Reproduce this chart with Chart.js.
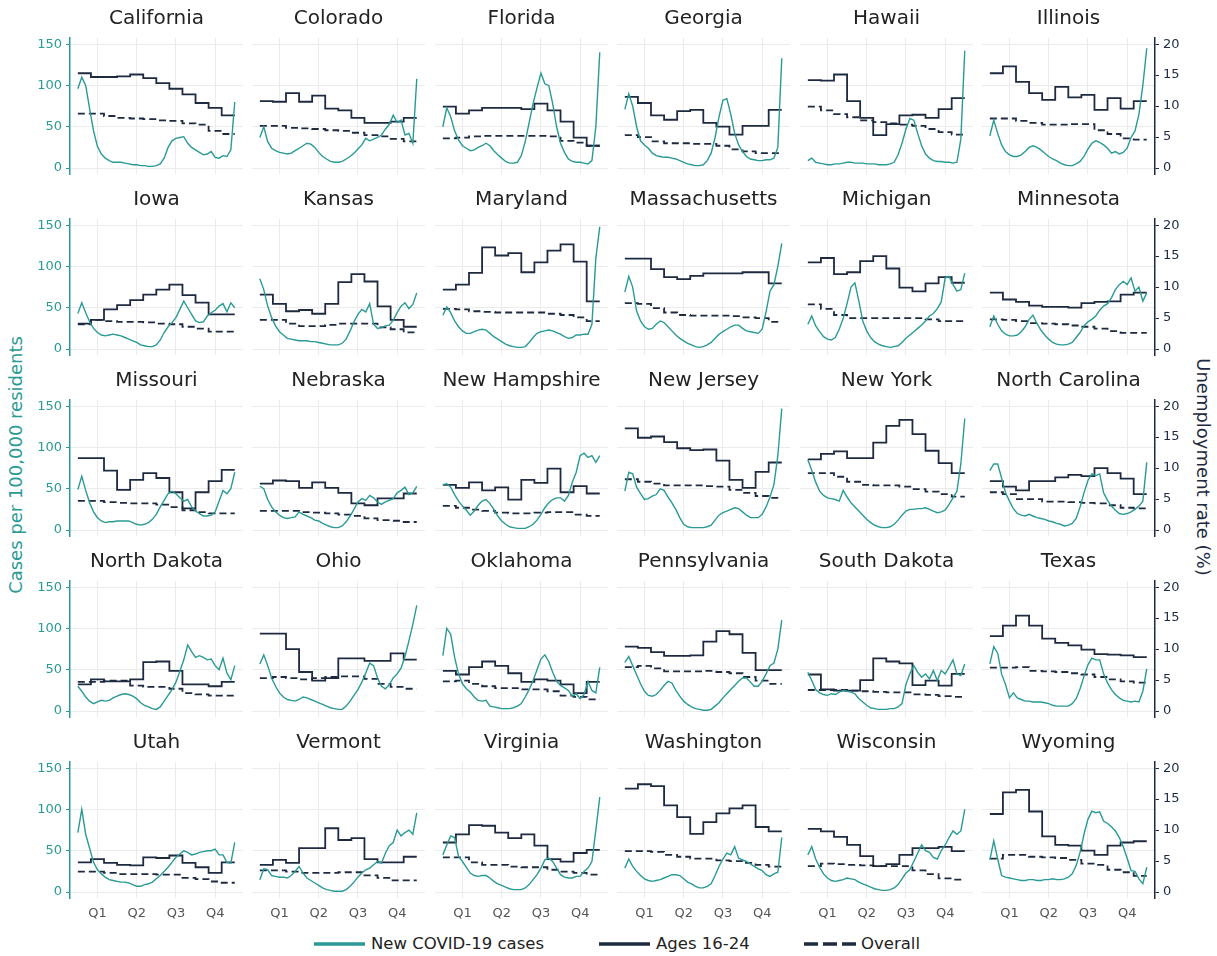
<!DOCTYPE html>
<html>
<head>
<meta charset="utf-8">
<title>COVID-19 cases and unemployment by state</title>
<script src="https://cdn.jsdelivr.net/npm/chart.js@4.4.1/dist/chart.umd.min.js"></script>
<style>
  body { margin: 0; background: #fff; font-family: "DejaVu Sans", sans-serif; }
  #page { position: relative; width: 1217px; height: 956px; overflow: hidden; }
  .panel { position: absolute; }
  .axis-title { position: absolute; white-space: nowrap; font-size: 18px; }
  #legend { position: absolute; left: 0; top: 934px; width: 1217px; height: 20px; font-size: 16.5px; line-height: 20px; color: #222; }
  #legend svg, #legend span { position: absolute; }
</style>
</head>
<body>
<div id="page">
  <div class="axis-title" style="left:15px;top:465px;color:#2a9a94;transform:translate(-50%,-50%) rotate(-90deg);">Cases per 100,000 residents</div>
  <div class="axis-title" style="left:1203px;top:467px;color:#1d2a40;transform:translate(-50%,-50%) rotate(90deg);">Unemployment rate (%)</div>
  <div id="legend">
    <svg style="left:314px;top:5px" width="51" height="10"><line x1="0" y1="5" x2="51" y2="5" stroke="#2a9a94" stroke-width="3.5"/></svg>
    <span style="left:371px;top:0">New COVID-19 cases</span>
    <svg style="left:599px;top:5px" width="51" height="10"><line x1="0" y1="5" x2="51" y2="5" stroke="#1d2a40" stroke-width="3.5"/></svg>
    <span style="left:656px;top:0">Ages 16-24</span>
    <svg style="left:804px;top:5px" width="52" height="10"><line x1="0" y1="5" x2="52" y2="5" stroke="#1d2a40" stroke-width="3.5" stroke-dasharray="14,5"/></svg>
    <span style="left:861px;top:0">Overall</span>
  </div>
</div>
<script>
const states = ["California", "Colorado", "Florida", "Georgia", "Hawaii", "Illinois",
  "Iowa", "Kansas", "Maryland", "Massachusetts", "Michigan", "Minnesota",
  "Missouri", "Nebraska", "New Hampshire", "New Jersey", "New York", "North Carolina",
  "North Dakota", "Ohio", "Oklahoma", "Pennsylvania", "South Dakota", "Texas",
  "Utah", "Vermont", "Virginia", "Washington", "Wisconsin", "Wyoming"];

const quarterLabels = ["Q1", "Q2", "Q3", "Q4"];
const quarterTicks = [5, 15, 25, 35]; // quarter midpoints on the 0-40 sample axis
const caseTicks = [0, 50, 100, 150];
const rateTicks = [0, 5, 10, 15, 20];

// new cases per 100,000, sampled evenly across the year (41 points per state)
const newCases = [
  [96,110,100,72,45,26,17,12,9,7,7,7,6,5,4,4,3,3,2,2,3,5,12,25,33,36,37,38,30,25,22,19,16,17,20,13,12,15,14,22,80],
  [37,50,32,24,21,19,18,17,18,21,24,27,30,29,25,19,14,11,8,7,7,8,11,14,18,23,28,36,33,35,37,40,47,53,64,55,58,40,42,30,108],
  [50,73,62,45,34,27,24,21,22,25,27,30,27,21,16,12,8,6,6,7,15,32,55,78,97,115,102,100,78,50,30,19,11,8,7,7,6,5,9,50,140],
  [71,90,75,50,33,28,24,18,15,14,13,13,12,11,9,7,5,4,3,3,4,9,18,37,62,82,84,65,42,28,20,14,11,10,9,9,10,10,12,25,133],
  [9,12,7,6,5,4,4,5,5,6,7,7,6,6,6,5,5,5,4,4,4,5,7,16,30,47,60,58,42,27,17,12,9,8,8,7,7,6,7,35,142],
  [39,58,42,28,20,16,14,14,16,20,25,27,25,22,18,14,11,9,6,4,3,3,5,8,14,23,30,33,31,28,24,18,20,17,19,24,37,45,65,100,145],
  [43,56,44,33,25,20,17,16,17,18,17,16,14,12,10,8,5,4,3,3,5,11,20,27,32,38,48,58,50,42,34,32,33,40,44,47,52,55,45,56,50],
  [85,72,52,38,28,21,17,13,12,11,10,10,10,9,9,8,7,6,5,5,5,7,12,22,33,42,48,45,55,30,25,26,28,29,35,44,52,56,49,54,68],
  [41,51,44,34,27,22,19,19,21,23,24,23,19,15,12,9,6,4,3,2,2,3,8,14,19,21,22,23,22,20,18,15,13,14,17,17,18,18,30,110,148],
  [69,88,75,46,34,27,24,25,30,34,32,27,22,17,13,10,7,5,3,2,3,5,8,13,18,21,24,27,29,29,25,22,21,20,19,24,45,70,78,100,128],
  [30,40,28,21,15,12,11,14,24,37,55,75,80,58,34,22,14,9,6,4,3,2,3,4,8,13,17,21,25,29,34,40,43,49,57,86,88,78,70,72,92],
  [27,40,30,22,18,16,16,17,21,27,36,41,31,23,17,12,8,6,5,5,6,8,14,20,28,33,36,40,47,52,55,62,72,78,82,78,86,70,75,58,68],
  [49,65,48,33,22,15,11,9,10,10,11,11,11,11,9,7,6,7,9,13,19,28,36,44,47,44,39,35,37,28,23,20,17,17,18,22,35,48,44,50,70],
  [53,50,37,28,22,18,15,14,15,16,22,19,17,15,12,11,8,6,4,3,3,5,10,17,25,34,38,36,42,39,34,31,34,36,38,45,48,52,43,45,53],
  [55,56,52,43,35,29,24,18,23,30,35,37,32,25,17,11,7,4,3,2,2,2,4,7,12,19,27,33,37,39,39,35,42,58,70,90,93,88,90,82,90],
  [47,70,68,52,44,37,38,41,43,50,48,40,33,25,15,7,4,3,3,3,3,4,6,12,18,21,23,25,27,26,22,18,15,15,15,19,28,40,55,90,147],
  [85,72,58,47,42,39,38,37,35,48,40,33,28,23,18,13,9,6,4,3,3,4,7,12,18,23,25,25,26,26,27,25,23,21,22,24,31,39,47,80,135],
  [72,80,80,63,45,35,26,20,18,17,19,17,15,14,13,11,10,8,7,5,6,8,14,28,45,60,68,66,68,45,36,29,24,20,19,20,22,25,29,35,82],
  [30,24,17,12,9,11,13,12,13,16,18,20,21,20,18,15,10,7,5,3,2,5,12,19,26,35,48,62,80,72,65,67,65,62,63,55,50,64,46,38,55],
  [57,68,55,40,30,22,17,14,13,12,14,17,16,14,12,10,8,6,4,3,2,2,6,12,19,26,35,46,58,55,40,30,27,32,40,45,52,66,85,105,128],
  [67,100,93,65,45,33,27,23,17,13,12,13,6,5,4,3,3,3,4,6,9,17,26,37,50,63,68,60,47,36,31,28,25,18,21,15,20,36,25,22,53],
  [59,66,55,44,33,24,19,18,20,25,31,36,34,25,18,12,8,5,3,2,1,1,2,6,10,16,21,26,31,36,40,40,35,30,30,36,45,55,58,75,110],
  [47,37,26,22,20,19,21,20,23,25,24,23,21,15,11,7,4,3,2,2,2,3,3,5,9,32,45,55,47,41,45,39,49,37,49,45,53,62,45,43,57],
  [57,78,70,45,32,16,22,16,14,12,12,11,11,11,10,9,7,6,6,6,6,9,15,27,42,56,64,62,62,45,34,26,20,16,13,12,11,12,11,24,51],
  [72,100,70,53,36,27,22,18,15,14,13,12,12,11,9,7,7,9,10,12,16,20,25,30,36,42,46,50,48,45,46,48,49,50,50,52,45,45,36,35,60],
  [15,28,27,20,19,18,18,17,20,25,31,23,17,14,11,8,5,3,2,1,1,1,3,7,12,18,23,27,29,33,37,35,47,56,60,75,68,72,75,70,96],
  [45,57,68,66,43,37,30,23,20,19,20,20,17,13,10,8,6,4,3,3,3,5,9,15,21,29,39,41,37,29,21,18,17,17,19,19,25,29,37,75,115],
  [29,40,31,25,20,16,14,13,14,15,17,19,21,21,20,16,12,10,7,5,5,7,10,20,31,40,47,45,55,41,39,37,34,31,28,26,21,19,22,24,66],
  [45,55,40,30,22,17,14,13,14,15,17,16,15,12,10,8,6,4,3,2,2,3,5,9,16,23,27,37,47,57,50,48,42,40,50,57,66,74,70,74,100],
  [39,62,40,20,18,17,16,15,14,14,15,15,14,14,15,15,16,15,15,16,18,22,32,48,70,88,98,96,97,86,83,79,74,66,55,41,26,25,16,10,30]
];

// monthly unemployment rate (%), ages 16-24
const youthRate = [
  [15.3,14.7,14.7,14.8,15.1,14.5,13.7,12.8,11.9,10.5,9.7,8.5],
  [10.8,10.7,12.1,10.7,11.7,9.6,9.3,8.1,7.3,7.3,7.5,8.1],
  [9.9,8.8,9.3,9.7,9.7,9.7,9.5,10.4,9.3,7.5,4.9,3.6],
  [11.5,10.5,8.5,7.8,9.2,9.4,7.3,6.7,5.4,6.8,6.8,9.4],
  [14.2,14.1,15.1,10.8,8.1,5.3,7.1,8.5,8.6,8.1,9.5,11.3],
  [15.3,16.4,13.9,12.1,11.0,13.1,11.4,11.8,9.4,11.3,9.6,10.8],
  [4.1,4.7,6.4,7.1,7.9,8.8,9.6,10.4,8.7,7.5,5.6,5.6],
  [8.8,7.3,6.1,6.3,5.7,7.3,10.8,12.1,10.9,6.9,4.7,3.6],
  [9.6,10.4,12.3,16.4,15.1,15.5,12.4,14.0,15.9,16.9,14.1,7.7],
  [14.6,14.6,12.9,11.6,11.3,11.8,12.2,12.2,12.2,12.4,12.4,10.6],
  [14.0,14.7,12.1,12.4,14.2,15.0,13.0,9.9,9.3,10.6,11.6,10.7],
  [9.1,8.0,7.6,7.0,6.8,6.8,6.7,7.4,7.6,7.7,8.8,9.1],
  [11.6,11.6,9.6,6.5,8.1,9.2,8.4,6.1,3.5,6.1,7.9,9.7],
  [7.5,8.0,7.9,6.8,7.7,6.8,6.0,4.3,4.0,5.1,5.1,5.9],
  [7.3,6.8,7.7,6.4,6.9,4.9,8.1,7.6,9.9,6.1,7.1,5.9],
  [16.4,14.9,15.1,14.2,13.2,12.9,13.0,11.2,8.1,6.8,9.4,10.9],
  [11.4,12.3,12.7,11.6,11.6,14.1,16.8,17.8,15.5,12.8,10.8,9.2],
  [7.9,7.0,6.4,7.9,7.9,8.5,8.9,8.7,10.0,9.2,8.3,5.8],
  [4.3,5.1,4.8,4.8,5.1,7.9,8.0,6.5,4.3,4.3,4.0,4.7],
  [12.5,12.5,10.0,6.3,4.9,5.3,8.5,8.5,8.1,8.1,9.3,8.3],
  [6.5,5.9,7.1,8.0,7.3,6.1,4.7,5.1,4.9,4.3,2.9,4.7],
  [10.4,10.2,9.5,8.9,8.9,9.0,11.2,12.9,12.4,9.4,6.6,6.6],
  [5.9,3.5,3.3,3.3,5.0,8.5,8.0,7.7,4.2,4.9,4.1,6.0],
  [12.1,13.8,15.4,13.8,11.7,11.0,10.6,9.9,9.2,9.1,9.0,8.7],
  [4.8,5.3,4.7,4.4,4.3,5.6,5.5,5.9,4.7,4.0,3.1,4.8],
  [4.4,5.2,4.7,7.1,7.1,10.3,8.4,8.7,5.3,4.8,4.8,5.7],
  [8.0,9.3,10.8,10.7,9.6,8.7,9.3,7.5,5.3,4.9,6.3,6.8],
  [16.7,17.4,17.1,14.0,12.1,9.4,11.3,12.7,13.5,14.0,10.5,9.8],
  [10.2,9.8,8.9,7.6,5.8,4.2,4.5,6.0,7.1,7.1,7.3,6.6],
  [12.6,16.1,16.5,13.0,9.0,7.6,7.5,6.7,6.0,7.5,8.0,8.2]
];

// monthly unemployment rate (%), all ages
const overallRate = [
  [8.8,8.8,8.4,8.1,8.0,7.9,7.7,7.6,7.2,7.0,6.0,5.5],
  [6.8,6.8,6.5,6.4,6.3,6.1,6.0,5.7,5.3,5.1,4.7,4.3],
  [4.8,4.9,5.1,5.2,5.2,5.2,5.2,5.2,5.1,4.4,4.1,3.6],
  [5.3,5.0,4.3,4.0,4.0,3.9,3.9,3.6,3.0,2.7,2.4,2.4],
  [9.9,9.3,8.7,8.2,7.7,7.4,7.2,7.0,6.8,6.3,5.8,5.4],
  [8.0,8.0,7.6,7.3,7.0,7.0,7.1,7.1,6.1,5.5,4.8,4.6],
  [4.0,4.7,4.5,4.4,4.4,4.3,4.1,4.0,3.6,3.3,2.8,2.8],
  [4.7,4.7,4.1,3.7,3.7,3.9,4.1,4.1,4.1,3.5,3.2,2.7],
  [6.5,6.4,6.1,6.0,5.9,5.9,5.9,5.9,5.7,5.5,5.1,4.5],
  [7.4,7.3,6.6,5.9,5.5,5.4,5.4,5.4,5.3,5.1,5.0,4.4],
  [7.2,6.5,5.5,5.0,5.0,5.0,5.0,5.0,5.0,4.8,4.5,4.5],
  [4.8,4.7,4.5,4.2,4.1,4.0,3.8,3.6,3.3,2.9,2.6,2.6],
  [4.7,4.7,4.5,4.4,4.3,4.3,4.1,3.7,3.2,2.9,2.7,2.7],
  [3.1,3.1,3.1,2.9,2.8,2.7,2.5,2.3,1.9,1.6,1.5,1.3],
  [3.9,3.6,3.3,3.1,2.8,2.7,2.7,2.8,2.9,2.9,2.5,2.3],
  [8.2,7.8,7.5,7.2,7.2,7.2,7.1,7.0,6.5,6.0,5.5,5.2],
  [9.2,9.2,8.6,7.8,7.3,7.2,7.2,7.0,6.6,6.2,5.8,5.4],
  [6.1,5.8,5.0,5.0,4.6,4.6,4.5,4.4,4.3,4.0,3.6,3.5],
  [4.7,4.7,4.9,4.9,4.1,3.9,3.9,3.6,2.9,2.7,2.5,2.5],
  [5.3,5.5,5.3,5.1,5.3,5.5,5.6,5.6,5.2,4.4,3.9,3.6],
  [4.8,4.9,4.4,4.0,3.7,3.7,3.5,3.5,3.2,2.5,2.3,1.9],
  [7.1,7.3,6.9,6.4,6.4,6.4,6.5,6.3,6.1,5.5,4.9,4.4],
  [3.4,3.4,3.4,3.3,3.2,3.1,3.0,3.0,2.7,2.6,2.4,2.3],
  [7.0,7.0,7.1,6.5,6.4,6.3,6.1,5.9,5.5,5.1,4.8,4.6],
  [3.3,3.3,3.1,2.9,2.9,2.9,2.8,2.8,2.3,2.1,1.7,1.5],
  [3.5,3.5,3.3,3.1,3.1,3.1,3.2,3.2,2.7,2.3,1.9,1.9],
  [5.6,5.6,4.8,4.4,4.4,4.1,4.0,4.0,3.6,3.3,3.1,2.8],
  [6.6,6.6,6.5,6.0,5.7,5.4,5.4,5.1,5.0,4.7,4.4,4.1],
  [4.2,4.6,4.5,4.4,4.3,4.2,4.2,4.2,3.5,2.9,2.2,2.0],
  [5.4,6.0,6.0,5.7,5.6,5.5,5.2,4.6,4.4,3.6,3.2,2.6]
];

const TEAL = "#2a9a94";
const NAVY = "#1d2a40";
const GRID = "#ebebeb";

// panel geometry (px)
const PLOT_LEFT = 70, PLOT_W = 173, COL_PITCH = 182.4, ROW_PITCH = 181;
const AXIS_W = 45, PLOT_TOP = 36.75, PLOT_H = 137.5;
const SPAN = 40; // last sample index

Chart.defaults.font.family = "'DejaVu Sans', sans-serif";

function monthSteps(values) {
  const pts = values.map((v, m) => ({ x: m * SPAN / values.length, y: v }));
  pts.push({ x: SPAN, y: values[values.length - 1] });
  return pts;
}

const page = document.getElementById("page");

states.forEach((name, idx) => {
  const row = Math.floor(idx / 6), col = idx % 6;
  const first = col === 0, last = col === 5, bottom = row === 4;
  const xAxisH = bottom ? 28 : 0;
  const h = bottom ? 215 : 195;
  const w = PLOT_W + 2 * AXIS_W;

  const canvas = document.createElement("canvas");
  canvas.className = "panel";
  canvas.width = w;
  canvas.height = h;
  canvas.style.left = Math.round(PLOT_LEFT + col * COL_PITCH - AXIS_W) + "px";
  canvas.style.top = (row * ROW_PITCH) + "px";
  page.appendChild(canvas);

  new Chart(canvas, {
    type: "line",
    data: {
      datasets: [
        {
          label: "New COVID-19 cases",
          data: newCases[idx].map((v, i) => ({ x: i, y: v })),
          yAxisID: "y",
          borderColor: TEAL,
          borderWidth: 1.4,
          pointRadius: 0
        },
        {
          label: "Ages 16-24",
          data: monthSteps(youthRate[idx]),
          yAxisID: "y2",
          borderColor: NAVY,
          borderWidth: 1.8,
          stepped: true,
          pointRadius: 0
        },
        {
          label: "Overall",
          data: monthSteps(overallRate[idx]),
          yAxisID: "y2",
          borderColor: NAVY,
          borderWidth: 1.8,
          borderDash: [7, 4],
          stepped: true,
          pointRadius: 0
        }
      ]
    },
    options: {
      responsive: false,
      animation: false,
      events: [],
      layout: { padding: { top: 6.6, bottom: h - PLOT_TOP - PLOT_H - xAxisH, left: 0, right: 0 } },
      plugins: {
        legend: { display: false },
        tooltip: { enabled: false },
        title: {
          display: true,
          text: name,
          color: "#222",
          font: { size: 20, weight: "normal" },
          padding: { top: 0, bottom: 7.35 }
        }
      },
      scales: {
        x: {
          type: "linear",
          min: -2,
          max: 42.1,
          afterBuildTicks: s => { s.ticks = quarterTicks.map(v => ({ value: v })); },
          afterFit: s => { s.height = xAxisH; },
          grid: { color: GRID, drawTicks: false },
          border: { display: false },
          ticks: {
            display: bottom,
            color: "#555",
            font: { size: 13 },
            padding: 8,
            maxRotation: 0,
            autoSkip: false,
            callback: (v, i) => quarterLabels[i]
          }
        },
        y: {
          position: "left",
          min: -7.5,
          max: 157.5,
          afterBuildTicks: s => { s.ticks = caseTicks.map(v => ({ value: v })); },
          afterFit: s => { s.width = AXIS_W; },
          grid: { color: GRID, drawTicks: first, tickLength: 4, tickColor: TEAL },
          border: { display: first, color: TEAL, width: 1.5 },
          ticks: { display: first, color: TEAL, font: { size: 13 }, padding: 4 }
        },
        y2: {
          position: "right",
          min: -1,
          max: 21,
          afterBuildTicks: s => { s.ticks = rateTicks.map(v => ({ value: v })); },
          afterFit: s => { s.width = AXIS_W; },
          grid: { drawOnChartArea: false, drawTicks: last, tickLength: 4, tickColor: NAVY },
          border: { display: last, color: NAVY, width: 1.5 },
          ticks: { display: last, color: NAVY, font: { size: 13 }, padding: 4 }
        }
      }
    }
  });
});
</script>
</body>
</html>
